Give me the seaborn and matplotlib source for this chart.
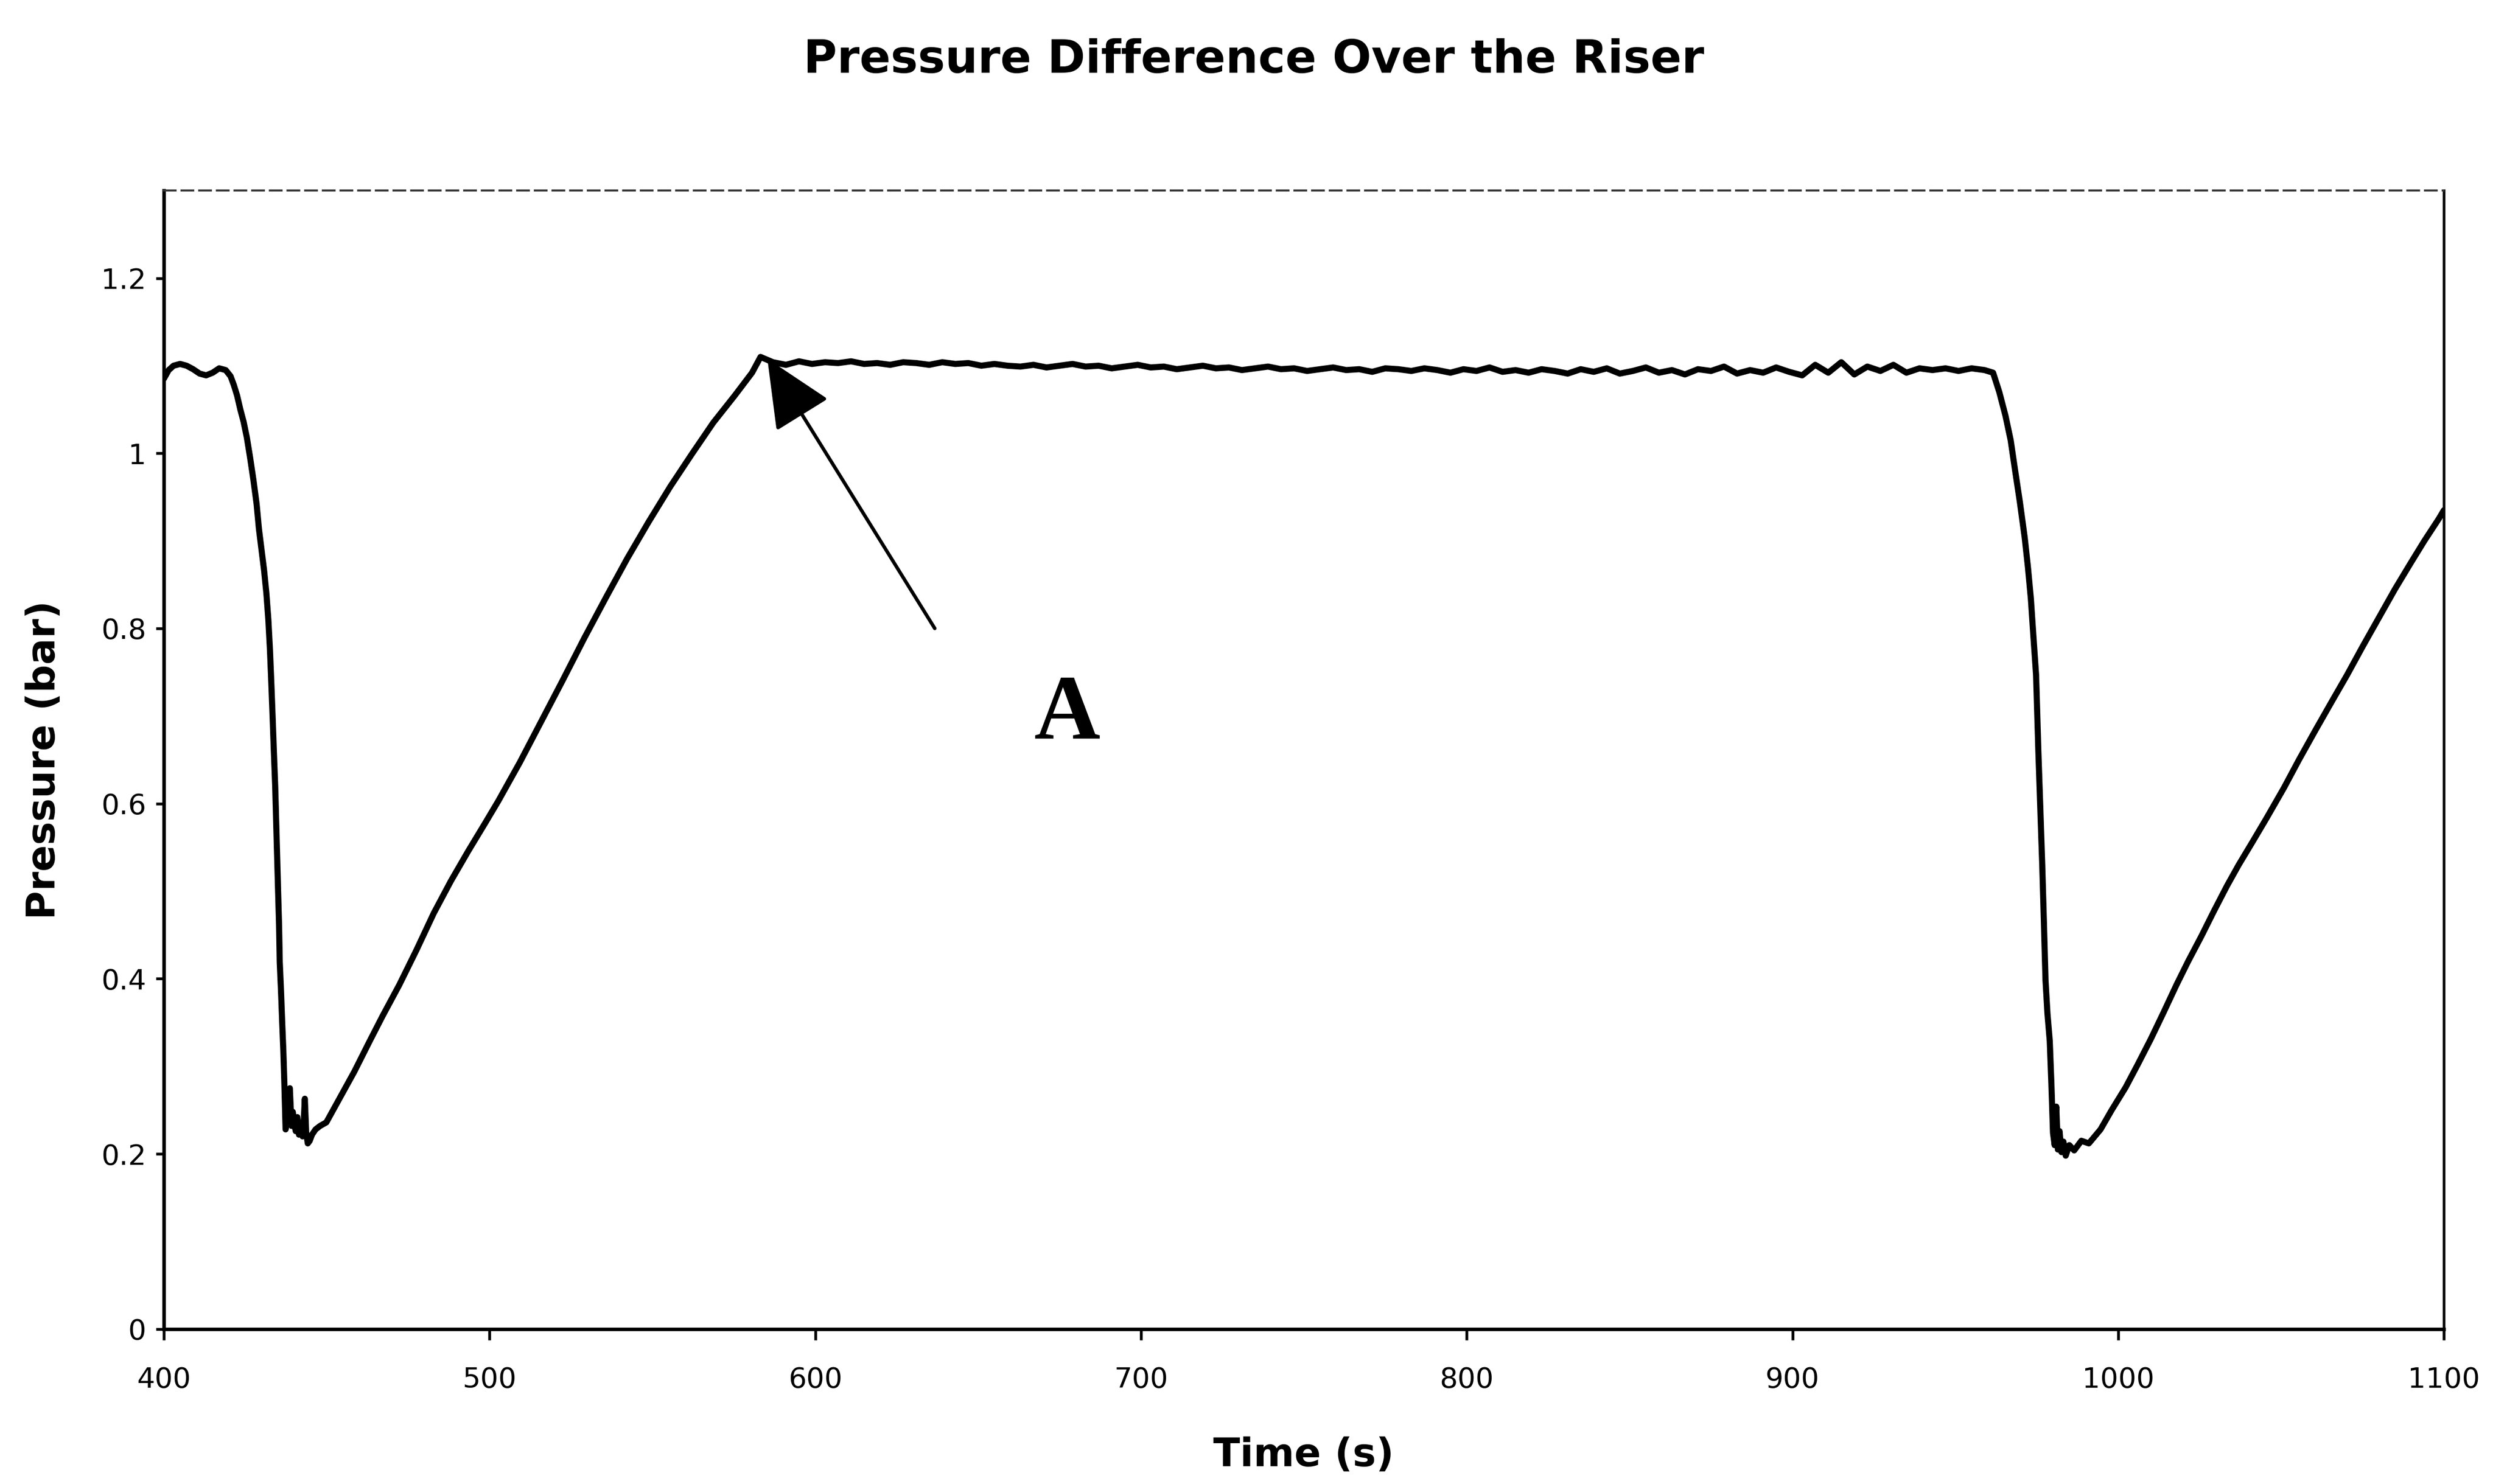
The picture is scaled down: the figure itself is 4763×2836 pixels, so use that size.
import matplotlib
matplotlib.use("Agg")
import matplotlib.pyplot as plt
import seaborn as sns
import pandas as pd

# values (time in s, pressure in bar)
time_s = [
    400, 401.5, 403, 405, 407, 409, 411, 413, 415, 417,
    419, 420.5, 421.5, 422.5, 423.5, 424.5, 425.5, 426.5, 427.5, 428.5,
    429.2, 430, 430.8, 431.5, 432.1, 432.6, 433.0, 433.4, 433.8, 434.2,
    434.5, 434.8, 435.1, 435.4, 435.6, 436.0, 436.3, 436.7, 437.0, 437.4,
    437.8, 438.3, 438.7, 439.2, 439.6, 440.0, 440.5, 441.0, 441.5, 442.0,
    442.6, 443.0, 443.3, 443.7, 444.2, 444.8, 445.5, 446.6, 448, 449.9,
    453.9, 458.5, 463.1, 467.1, 472.3, 477.6, 482.9, 488.2, 493.5, 498.7,
    502.7, 509.3, 515.9, 522.5, 529.1, 535.7, 542.3, 548.9, 555.5, 562.1,
    568.7, 575.3, 580.6, 583.2,
    587, 591, 595, 599, 603, 607, 611, 615, 619, 623,
    627, 631, 635, 639, 643, 647, 651, 655, 659, 663,
    667, 671, 675, 679, 683, 687, 691, 695, 699, 703,
    707, 711, 715, 719, 723, 727, 731, 735, 739, 743,
    747, 751, 755, 759, 763, 767, 771, 775, 779, 783,
    787, 791, 795, 799, 803, 807, 811, 815, 819, 823,
    827, 831, 835, 839, 843, 847, 851, 855, 859, 863,
    867, 871, 875, 879, 883, 887, 891, 895, 899, 903,
    907, 911, 915, 919, 923, 927, 931, 935, 939, 943,
    947, 951, 955, 959,
    961.6, 963.5, 965.4, 967, 968.3, 969.8, 971.3, 972.3, 973.2, 974.0,
    974.8, 975.5, 976.1, 976.7, 977.2, 977.7, 978.3, 979.0, 979.5, 980.0,
    980.5, 981.0, 981.5, 982.0, 982.6, 983.2, 983.9, 985, 986.5, 988.7,
    991, 994.6, 998,
    1002.3, 1006, 1010, 1014, 1017.9, 1021.5, 1025.6, 1029.5, 1033.4, 1037,
    1041.2, 1045.5, 1050.9, 1055.5, 1060.6, 1065.5, 1070.3, 1075, 1080, 1085,
    1089.7, 1094, 1098.4, 1100,
]
pressure_bar = [
    1.085, 1.095, 1.100, 1.102, 1.100, 1.096, 1.091, 1.089, 1.092, 1.097,
    1.095, 1.088, 1.078, 1.066, 1.050, 1.036, 1.018, 0.995, 0.970, 0.942,
    0.914, 0.890, 0.866, 0.840, 0.810, 0.775, 0.739, 0.700, 0.659, 0.620,
    0.579, 0.540, 0.499, 0.460, 0.419, 0.385, 0.355, 0.318, 0.283, 0.228,
    0.240, 0.272, 0.275, 0.232, 0.248, 0.236, 0.226, 0.242, 0.222, 0.228,
    0.220, 0.240, 0.263, 0.225, 0.212, 0.215, 0.222, 0.228, 0.232, 0.236,
    0.263, 0.294, 0.328, 0.357, 0.393, 0.433, 0.475, 0.512, 0.546, 0.578,
    0.603, 0.647, 0.694, 0.741, 0.789, 0.835, 0.880, 0.922, 0.962, 0.999,
    1.035, 1.066, 1.092, 1.110,
    1.104, 1.101, 1.105, 1.102, 1.104, 1.103, 1.105, 1.102, 1.103, 1.101,
    1.104, 1.103, 1.101, 1.104, 1.102, 1.103, 1.100,
    1.102, 1.100, 1.099, 1.101, 1.098, 1.100, 1.102, 1.099, 1.100, 1.097,
    1.099, 1.101, 1.098, 1.099, 1.096, 1.098,
    1.100, 1.097, 1.098, 1.095, 1.097, 1.099, 1.096, 1.097, 1.094, 1.096,
    1.098, 1.095, 1.096, 1.093, 1.097, 1.096,
    1.094, 1.097, 1.095, 1.092, 1.096, 1.094, 1.098, 1.093, 1.095, 1.092,
    1.096, 1.094, 1.091, 1.096, 1.093, 1.097,
    1.091, 1.094, 1.098, 1.092, 1.095, 1.090, 1.096, 1.094, 1.099, 1.091,
    1.095, 1.092, 1.098, 1.093, 1.089, 1.101,
    1.092, 1.104, 1.090, 1.099, 1.094, 1.101, 1.092, 1.097, 1.095, 1.097,
    1.094, 1.097, 1.095,
    1.092, 1.070, 1.043, 1.015, 0.982, 0.945, 0.904, 0.870, 0.834, 0.790,
    0.747, 0.660, 0.595, 0.529, 0.465, 0.398, 0.360, 0.329, 0.280, 0.224,
    0.210, 0.254, 0.205, 0.226, 0.202, 0.214, 0.198, 0.210, 0.204, 0.215,
    0.212, 0.228, 0.250,
    0.276, 0.302, 0.331, 0.362, 0.393, 0.420, 0.449, 0.478, 0.506, 0.530,
    0.556, 0.583, 0.618, 0.650, 0.684, 0.716, 0.747, 0.779, 0.812, 0.845,
    0.874, 0.900, 0.925, 0.935,
]

x_ticks = [400, 500, 600, 700, 800, 900, 1000, 1100]
y_ticks = [0, 0.2, 0.4, 0.6, 0.8, 1.0, 1.2]
y_tick_labels = ["0", "0.2", "0.4", "0.6", "0.8", "1", "1.2"]

arrow_tip = (585.3, 1.108)
arrow_tail = (636.7, 0.80)
label_pos = (677.3, 0.70)

sns.set_style("white")
plt.rcParams["font.family"] = ["DejaVu Sans"]
plt.rcParams["text.color"] = "black"
plt.rcParams["axes.labelcolor"] = "black"
plt.rcParams["xtick.color"] = "black"
plt.rcParams["ytick.color"] = "black"

df = pd.DataFrame({"time": time_s, "pressure": pressure_bar})

fig = plt.figure(figsize=(4763 / 300, 2836 / 300), dpi=300)
ax = fig.add_axes([0.0657, 0.1044, 0.9146, 0.7672])

sns.lineplot(data=df, x="time", y="pressure", ax=ax, color="black",
             linewidth=2.8, estimator=None, sort=False)

ax.set_xlim(400, 1100)
ax.set_ylim(0, 1.3)
ax.set_xticks(x_ticks)
ax.set_xticklabels([str(v) for v in x_ticks])
ax.set_yticks(y_ticks)
ax.set_yticklabels(y_tick_labels)
ax.tick_params(axis="x", direction="out", length=5, width=1.3, pad=12,
               labelsize=13, bottom=True)
ax.tick_params(axis="y", direction="out", length=3.6, width=1.3, pad=4.5,
               labelsize=13, left=True)

for side in ["left", "bottom"]:
    ax.spines[side].set_linewidth(1.6)
    ax.spines[side].set_color("black")
ax.spines["right"].set_linewidth(1.2)
ax.spines["right"].set_color("black")
ax.spines["top"].set_linewidth(0.9)
ax.spines["top"].set_color("#333333")
ax.spines["top"].set_linestyle((0, (6, 3)))

ax.set_xlabel("Time (s)", fontsize=18, fontweight="bold")
ax.xaxis.set_label_coords(0.5, -0.111)
ax.xaxis.label.set_va("center")
ax.set_ylabel("Pressure (bar)", fontsize=18, fontweight="bold")
ax.yaxis.set_label_coords(-0.0524, 0.5)
ax.yaxis.label.set_va("center")

fig.text(0.503, 0.9594, "Pressure Difference Over the Riser", ha="center",
         va="center", fontsize=21, fontweight="bold")

ax.annotate("", xy=arrow_tip, xytext=arrow_tail,
            arrowprops=dict(arrowstyle="-|>,head_length=1.1,head_width=0.5",
                            mutation_scale=25, color="black", lw=1.6,
                            shrinkA=0, shrinkB=0))
ax.text(label_pos[0], label_pos[1], "A", ha="center", va="center",
        fontsize=42, fontweight="bold", family=["Liberation Serif", "DejaVu Serif"])

fig.savefig("out.png", dpi=300)
